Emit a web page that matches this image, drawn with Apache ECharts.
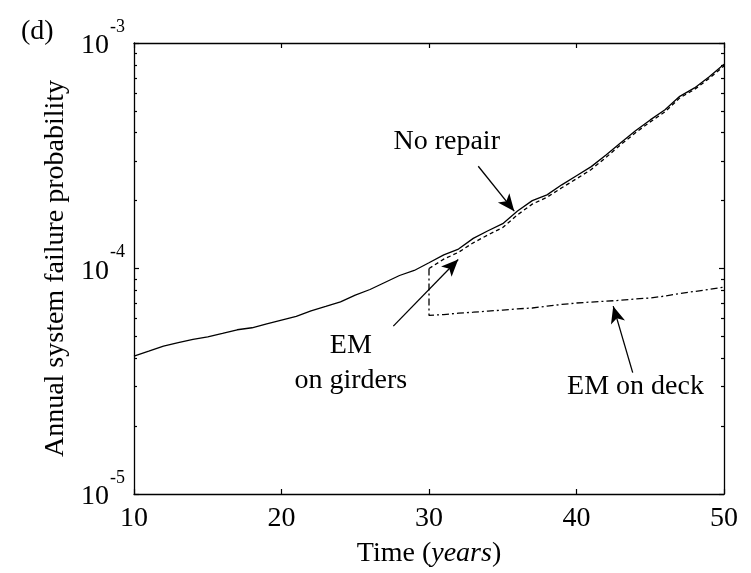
<!DOCTYPE html>
<html>
<head>
<meta charset="utf-8">
<script src="https://cdn.jsdelivr.net/npm/echarts@6/dist/echarts.min.js"></script>
<style>
  html, body { margin: 0; padding: 0; background: #fff; }
  #chart { width: 751px; height: 573px; }
</style>
</head>
<body>
<div id="chart"></div>
<script>
// values
const years = [10, 11, 12, 13, 14, 15, 16, 17, 18, 19, 20, 21, 22, 23, 24, 25, 26, 27, 28, 29,
  30, 31, 32, 33, 34, 35, 36, 37, 38, 39, 40, 41, 42, 43, 44, 45, 46, 47, 48, 49, 50]
const noRepair = [4.09e-5, 4.30e-5, 4.53e-5, 4.69e-5, 4.85e-5, 4.98e-5, 5.15e-5, 5.35e-5, 5.46e-5, 5.68e-5,
  5.90e-5, 6.13e-5, 6.49e-5, 6.79e-5, 7.11e-5, 7.62e-5, 8.07e-5, 8.67e-5, 9.31e-5, 9.80e-5,
  1.06e-4, 1.15e-4, 1.22e-4, 1.36e-4, 1.47e-4, 1.58e-4, 1.80e-4, 2.00e-4, 2.12e-4, 2.35e-4,
  2.58e-4, 2.83e-4, 3.19e-4, 3.61e-4, 4.08e-4, 4.56e-4, 5.06e-4, 5.80e-4, 6.32e-4, 7.08e-4, 8.04e-4]

const girdersYears = [30, 31, 32, 33, 34, 35, 36, 37, 38, 39, 40, 41, 42, 43, 44, 45, 46, 47, 48, 49, 50]
const girders = [1.00e-4, 1.10e-4, 1.18e-4, 1.30e-4, 1.41e-4, 1.52e-4, 1.73e-4, 1.93e-4, 2.07e-4, 2.28e-4,
  2.50e-4, 2.75e-4, 3.11e-4, 3.54e-4, 4.00e-4, 4.47e-4, 4.95e-4, 5.71e-4, 6.22e-4, 6.97e-4, 7.91e-4]

const deckYears = [30, 30, 31, 32, 33, 34, 35, 36, 37, 38, 39, 40, 41, 42, 43, 44, 45, 46, 47, 48, 49, 50]
const deck = [1.00e-4, 6.19e-5, 6.25e-5, 6.34e-5, 6.40e-5, 6.47e-5, 6.54e-5, 6.62e-5, 6.68e-5, 6.81e-5, 6.93e-5,
  7.03e-5, 7.10e-5, 7.16e-5, 7.23e-5, 7.33e-5, 7.40e-5, 7.55e-5, 7.75e-5, 7.91e-5, 8.08e-5, 8.27e-5]

const xTicks = [10, 20, 30, 40, 50]
const yMajor = [1e-5, 1e-4, 1e-3]
const yMinor = [2e-5, 3e-5, 4e-5, 5e-5, 6e-5, 7e-5, 8e-5, 9e-5, 2e-4, 3e-4, 4e-4, 5e-4, 6e-4, 7e-4, 8e-4, 9e-4]

// annotations: [text, x, y] and arrows: [x0, y0, x1, y1] in data units
const notes = [
  ['No repair', 31.2, 3.65e-4],
  ['EM\non girders', 24.7, 3.80e-5],
  ['EM on deck', 44.0, 2.98e-5]
]
const arrows = [
  [33.34, 2.84e-4, 35.78, 1.795e-4],
  [27.58, 5.55e-5, 31.98, 1.096e-4],
  [43.81, 3.455e-5, 42.49, 6.81e-5]
]

const FONT = '"Liberation Serif", "DejaVu Serif", serif'
const pair = (xs, ys) => xs.map((x, i) => [x, ys[i]])

const lineAxis = { show: true, onZero: false, lineStyle: { color: '#000', width: 1.3 } }
const tickStyle = { color: '#000', width: 1.2 }
const baseY = {
  type: 'log', logBase: 10, min: 1e-5, max: 1e-3,
  splitLine: { show: false }
}
const yLabel = {
  customValues: yMajor,
  margin: 9,
  formatter: v => '{b|10}{s|' + Math.round(Math.log10(v)) + '}',
  rich: {
    b: { fontFamily: FONT, fontSize: 28, lineHeight: 28, color: '#000', verticalAlign: 'bottom' },
    s: { fontFamily: FONT, fontSize: 18, color: '#000', verticalAlign: 'top', padding: [0, 0, 24, 1] }
  },
  padding: [0, 0, 8, 0]
}

const option = {
  animation: false,
  backgroundColor: '#fff',
  grid: { left: 134, right: 27, top: 43, bottom: 78, containLabel: false },
  graphic: [
    { type: 'text', left: 21, top: 18, style: { text: '(d)', font: '28px ' + FONT, fill: '#000' } }
  ],
  xAxis: [
    {
      type: 'value', min: 10, max: 50, interval: 10, position: 'bottom',
      axisLine: lineAxis,
      axisTick: { inside: true, length: 5, customValues: xTicks, lineStyle: tickStyle },
      axisLabel: { margin: 11, color: '#000', fontFamily: FONT, fontSize: 28 },
      splitLine: { show: false },
      name: '{n|Time (}{i|years}{n|)}',
      nameLocation: 'middle', nameGap: 46,
      nameTextStyle: {
        rich: {
          n: { fontFamily: FONT, fontSize: 28, color: '#000' },
          i: { fontFamily: FONT, fontSize: 28, fontStyle: 'italic', color: '#000' }
        }
      }
    },
    {
      type: 'value', min: 10, max: 50, interval: 10, position: 'top',
      axisLine: lineAxis,
      axisTick: { inside: true, length: 5, customValues: xTicks, lineStyle: tickStyle },
      axisLabel: { show: false }, splitLine: { show: false }
    }
  ],
  yAxis: [
    Object.assign({}, baseY, {
      position: 'left',
      axisLine: lineAxis,
      axisTick: { inside: true, length: 5, customValues: yMajor, lineStyle: tickStyle },
      axisLabel: yLabel,
      name: 'Annual system failure probability',
      nameLocation: 'middle', nameGap: 59,
      nameTextStyle: { fontFamily: FONT, fontSize: 28, color: '#000' }
    }),
    Object.assign({}, baseY, {
      position: 'left',
      axisLine: { show: false },
      axisTick: { inside: true, length: 3, customValues: yMinor, lineStyle: tickStyle },
      axisLabel: { show: false }
    }),
    Object.assign({}, baseY, {
      position: 'right',
      axisLine: lineAxis,
      axisTick: { inside: true, length: 5, customValues: yMajor, lineStyle: tickStyle },
      axisLabel: { show: false }
    }),
    Object.assign({}, baseY, {
      position: 'right',
      axisLine: { show: false },
      axisTick: { inside: true, length: 3, customValues: yMinor, lineStyle: tickStyle },
      axisLabel: { show: false }
    })
  ],
  series: [
    {
      name: 'No repair', type: 'line', xAxisIndex: 0, yAxisIndex: 0,
      data: pair(years, noRepair), symbol: 'none',
      lineStyle: { color: '#000', width: 1.3 }
    },
    {
      name: 'EM on girders', type: 'line', xAxisIndex: 0, yAxisIndex: 0,
      data: pair(girdersYears, girders), symbol: 'none',
      lineStyle: { color: '#000', width: 1.3, type: [4, 3] }
    },
    {
      name: 'EM on deck', type: 'line', xAxisIndex: 0, yAxisIndex: 0,
      data: pair(deckYears, deck), symbol: 'none',
      lineStyle: { color: '#000', width: 1.3, type: [7, 3, 2, 3] }
    },
    {
      name: 'notes', type: 'line', xAxisIndex: 0, yAxisIndex: 0, data: [], symbol: 'none',
      markLine: {
        silent: true, symbol: ['none', 'arrow'], symbolSize: [11, 17],
        label: { show: false },
        lineStyle: { color: '#000', width: 1.3, type: 'solid' },
        itemStyle: { color: '#000' },
        data: arrows.map(a => [{ coord: [a[0], a[1]] }, { coord: [a[2], a[3]] }])
      },
      markPoint: {
        silent: true, symbol: 'circle', symbolSize: 1,
        itemStyle: { color: 'rgba(0,0,0,0)' },
        label: {
          show: true, position: 'inside', color: '#000', fontFamily: FONT, fontSize: 28,
          lineHeight: 35, align: 'center', formatter: p => p.name
        },
        data: notes.map(n => ({ name: n[0], coord: [n[1], n[2]] }))
      }
    }
  ]
}

const chart = echarts.init(document.getElementById('chart'))
chart.setOption(option)
</script>
</body>
</html>
